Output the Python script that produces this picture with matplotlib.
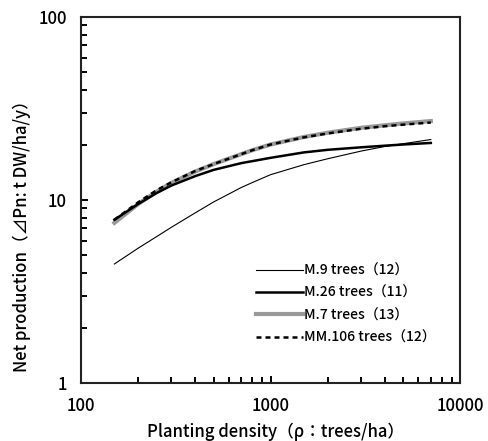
import matplotlib
matplotlib.use("Agg")
import matplotlib.pyplot as plt
from matplotlib.ticker import LogLocator, NullFormatter, FixedLocator, FixedFormatter

plt.rcParams['font.family'] = ['Noto Sans CJK JP', 'DejaVu Sans']

# planting density (trees/ha)
density = [150, 200, 250, 300, 400, 500, 700, 800, 1000, 1500, 2000, 3000, 4000, 5000, 7000]

# net production (t DW/ha/y)
m9 = [4.47, 5.45, 6.3, 7.1, 8.5, 9.75, 11.7, 12.45, 13.75, 15.6, 16.8, 18.5, 19.6, 20.3, 21.4]
m26 = [7.8, 9.5, 10.9, 12.0, 13.5, 14.6, 15.9, 16.3, 17.0, 18.2, 18.8, 19.4, 19.8, 20.1, 20.5]
m7 = [7.5, 9.5, 11.1, 12.4, 14.3, 15.7, 17.8, 18.7, 20.1, 22.1, 23.3, 24.8, 25.6, 26.2, 27.0]
mm106 = [7.8, 9.7, 11.3, 12.5, 14.4, 15.7, 17.8, 18.7, 20.1, 22.0, 23.1, 24.5, 25.3, 25.8, 26.5]

labels = ["M.9 trees（12）", "M.26 trees（11）", "M.7 trees（13）", "MM.106 trees（12）"]

fig = plt.figure(figsize=(4.88, 4.41), dpi=100)
ax = fig.add_axes([0.166, 0.1315, 0.777, 0.83])

l1, = ax.plot(density, m9, color="black", lw=0.8)
l3, = ax.plot(density, m7, color="#999999", lw=3.0)
l2, = ax.plot(density, m26, color="black", lw=1.8)
l4, = ax.plot(density, mm106, color="black", lw=1.8, ls=(0, (2.0, 1.6)))

ax.set_xscale("log")
ax.set_yscale("log")
ax.set_xlim(100, 10000)
ax.set_ylim(1, 100)

ax.xaxis.set_major_locator(FixedLocator([100, 1000, 10000]))
ax.xaxis.set_major_formatter(FixedFormatter(["100", "1000", "10000"]))
ax.yaxis.set_major_locator(FixedLocator([1, 10, 100]))
ax.yaxis.set_major_formatter(FixedFormatter(["1", "10", "100"]))
ax.xaxis.set_minor_locator(LogLocator(base=10, subs=range(2, 10)))
ax.yaxis.set_minor_locator(LogLocator(base=10, subs=range(2, 10)))
ax.xaxis.set_minor_formatter(NullFormatter())
ax.yaxis.set_minor_formatter(NullFormatter())

ax.tick_params(which="both", direction="in", top=False, right=False, width=1.4)
ax.tick_params(which="major", length=5, pad=10, labelsize=12)
ax.tick_params(which="minor", length=4.5)
for lab in ax.get_xticklabels() + ax.get_yticklabels():
    lab.set_fontweight("medium")
for s in ax.spines.values():
    s.set_linewidth(1.5)
    s.set_color("#222222")

ax.set_xlabel("Planting density（ρ：trees/ha）", fontsize=12, fontweight="medium")
ax.set_ylabel("Net production（⊿Pn: t DW/ha/y）", fontsize=12, fontweight="medium")
ax.xaxis.set_label_coords(0.512, -0.134)
ax.yaxis.set_label_coords(-0.156, 0.413)
ax.xaxis.label.set_va("center")
ax.yaxis.label.set_va("center")

ax.legend([l1, l2, l3, l4], labels, loc="upper left",
          bbox_to_anchor=(243 / 488, 1 - 251 / 441), bbox_transform=fig.transFigure,
          frameon=False, handlelength=3.4, handletextpad=0.1,
          labelspacing=0.6, prop={"size": 10, "weight": "medium"})

fig.savefig("out.png", dpi=100)
